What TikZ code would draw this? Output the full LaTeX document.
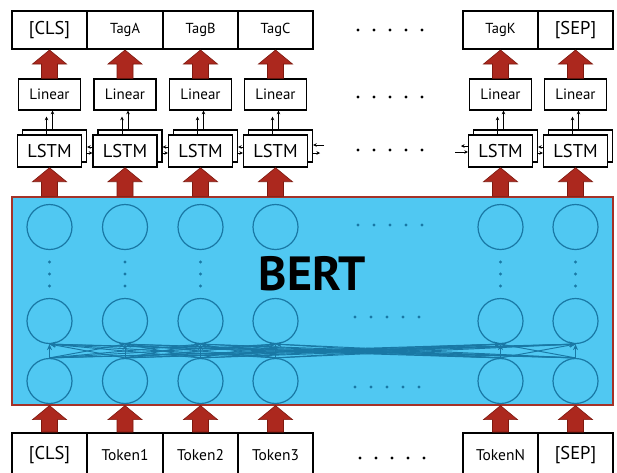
\documentclass[tikz,border=0pt]{standalone}
\usepackage{fontspec}
\setmainfont{PT Sans}
\usetikzlibrary{arrows.meta,calc}
\definecolor{bertfill}{RGB}{80,200,242}
\definecolor{bertedge}{RGB}{165,50,40}
\definecolor{neuroncol}{RGB}{25,120,165}
\definecolor{arrred}{RGB}{172,40,30}
\definecolor{arredge}{RGB}{125,25,15}
\tikzset{
  topbox/.style={draw, line width=2pt, minimum width=75.5pt, minimum height=38pt, inner sep=0pt, fill=white},
  tokbox/.style={draw, line width=2pt, minimum width=75.5pt, minimum height=45pt, inner sep=0pt, fill=white},
  linbox/.style={draw, line width=1.4pt, minimum width=62pt, minimum height=31pt, inner sep=0pt, fill=white, font=\fontsize{15}{15}\selectfont},
  lstmbox/.style={draw, line width=1.4pt, minimum width=64pt, minimum height=32pt, inner sep=0pt, fill=white, font=\fontsize{18.5}{18.5}\selectfont},
  bertbox/.style={draw=bertedge, fill=bertfill, line width=1.2pt, minimum width=601pt, minimum height=208pt, inner sep=0pt},
  neuron/.style={circle, draw=neuroncol, line width=1.2pt, minimum size=45pt, inner sep=0pt},
  fc/.style={draw=neuroncol, line width=0.95pt, -{Stealth[length=6pt,width=5pt]}},
  smallarr/.style={draw=black, line width=0.7pt, -{Stealth[length=3.5pt,width=3.5pt]}},
  redarr/.style={fill=arrred, draw=arredge, line width=0.6pt},
}
\newcommand\myredarrow[2]{%
  \path[redarr] let \p1=(#1), \p2=(#2) in
  (\x2-8pt,\y1) -- (\x2-8pt,\y2-14pt) -- (\x2-17pt,\y2-14pt) -- (\x2,\y2)
  -- (\x2+17pt,\y2-14pt) -- (\x2+8pt,\y2-14pt) -- (\x2+8pt,\y1) -- cycle;}
\begin{document}
\begin{tikzpicture}[x=1pt,y=-1pt]
\clip (0,0) rectangle (617,472);
\fill[white] (0,0) rectangle (617,472);

% BERT block
\node[bertbox] (bert) at (312.5,301) {};

\foreach \i/\x in {1/49.5,2/125,3/200.5,4/275.5,5/500.5,6/575.5}{
  \node[neuron] (a\i) at (\x,227) {};
  \node[neuron] (m\i) at (\x,321) {};
  \node[neuron] (d\i) at (\x,381) {};
  \node[linbox] (l\i) at (\x,94.5) {Linear};
  \node[lstmbox] (b\i) at (\x+5,146) {};
  \node[lstmbox] (s\i) at (\x,151) {LSTM};
}
% vertical dots (not in the column behind the label)
\foreach \x in {49.5,125,200.5,500.5,575.5}{
  \foreach \yy in {262,274,286} \fill[neuroncol] (\x,\yy) circle (1.6pt);
}
\node[font=\bfseries\fontsize{48}{48}\selectfont] (bertlabel) at (312.5,274) {BERT};

% top tags
\foreach \i/\x/\t/\fs in {1/49.5/{[CLS]}/18.5,2/125/TagA/14.5,3/200.5/TagB/14.5,4/275.5/TagC/14.5,5/500.5/TagK/14.5,6/575.5/{[SEP]}/18.5}{
  \node[topbox, font=\fontsize{\fs}{\fs}\selectfont] (t\i) at (\x,30) {\t};
}
% bottom tokens
\foreach \i/\x/\t/\fs in {1/49.5/{[CLS]}/18.5,2/125/Token1/15.5,3/200.5/Token2/15.5,4/275.5/Token3/15.5,5/500.5/TokenN/15.5,6/575.5/{[SEP]}/18.5}{
  \node[tokbox, font=\fontsize{\fs}{\fs}\selectfont] (k\i) at (\x,455.5) {\t};
}

% fully connected attention lines
\foreach \i in {1,...,6}{
  \foreach \j in {1,...,6}{
    \draw[fc] (d\i.north) -- (m\j.south);
  }
}

% horizontal dots inside BERT
\foreach \xx in {358,374,390,406,422} \fill[neuroncol] (\xx,225) circle (1.6pt);
\foreach \xx in {355,371,387,403,419} \fill[neuroncol] (\xx,317) circle (1.6pt);
\foreach \xx in {355,371,387,403,419} \fill[neuroncol] (\xx,387) circle (1.6pt);

% black dots
\foreach \yy in {30,97,150} {\foreach \xx in {358,374,390,406,422} \fill[black] (\xx,\yy) circle (1.7pt);}
\foreach \xx in {360,376,392,408,424} \fill[black] (\xx,458) circle (1.7pt);

% red arrows
\foreach \i in {1,...,6}{
  \myredarrow{l\i.north}{t\i.south}
  \myredarrow{bert.north -| s\i.south}{s\i.south}
  \myredarrow{k\i.north}{bert.south -| k\i.north}
}

% LSTM -> Linear
\foreach \i in {1,...,6}{
  \draw[smallarr, shorten >=6pt] ([xshift=-3pt]s\i.north) -- ([xshift=-3pt]s\i.north |- l\i.south);
  \draw[smallarr] ([xshift=-2pt]b\i.north) -- ([xshift=-2pt]b\i.north |- l\i.south);
}

% LSTM <-> LSTM
\foreach \i/\j in {1/2,2/3,3/4,5/6}{
  \draw[smallarr] ([yshift=-7pt]b\i.east) -- ([yshift=-2pt]s\j.west);
  \draw[smallarr] ([yshift=4pt]s\j.west) -- ([yshift=-1pt]b\i.east);
}
\coordinate (r4in) at (324,145);
\coordinate (r4out) at (320,153);
\draw[smallarr] (r4in) -- ([yshift=1pt]b4.east);
\draw[smallarr] ([yshift=-7pt]b4.east) -- (r4out);
\coordinate (l5in) at (455,152);
\coordinate (l5out) at (461,146);
\draw[smallarr] (l5in) -- ([yshift=-1pt]s5.west);
\draw[smallarr] ([yshift=5pt]s5.west) -- (l5out);
\end{tikzpicture}
\end{document}
